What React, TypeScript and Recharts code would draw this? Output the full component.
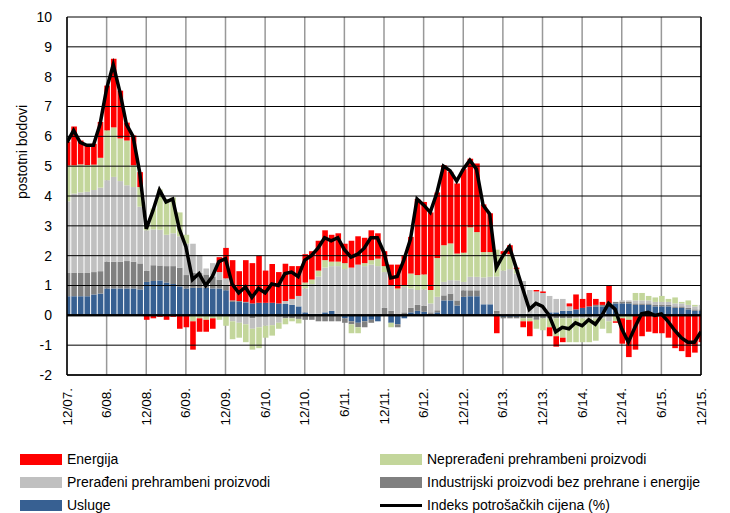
import {ComposedChart, Bar, Line, XAxis, YAxis, CartesianGrid, ReferenceLine} from 'recharts';

// x-axis labels, one every 6 months (12/07 ... 12/15)
const tickLabels = ['12/07.', '6/08.', '12/08.', '6/09.', '12/09.', '6/10.', '12/10.', '6/11.', '12/11.',
    '6/12.', '12/12.', '6/13.', '12/13.', '6/14.', '12/14.', '6/15.', '12/15.'];

// contributions in percentage points, monthly 12/07 - 12/15
const usluge = [
    0.64, 0.64, 0.64, 0.64, 0.7, 0.73, 0.9, 0.9, 0.9, 0.9, 0.9, 0.87,
    1.12, 1.15, 1.17, 1.1, 1.05, 0.97, 0.9, 0.92, 0.92, 0.92, 0.9, 0.9,
    0.84, 0.45, 0.45, 0.43, 0.4, 0.42, 0.42, 0.42, 0.4, 0.38, 0.35, 0.3,
    0.1, 0.05, 0.05, 0.1, 0.15, 0.05, -0.1, -0.2, -0.25, -0.2, -0.15, -0.2,
    0.0, -0.25, -0.3, -0.1, 0.1, 0.15, 0.12, 0.05, 0.1, 0.5, 0.5, 0.33,
    0.62, 0.64, 0.64, 0.37, 0.37, 0.05, -0.05, -0.05, -0.05, 0.05, 0.05, 0.05,
    0.05, 0.1, 0.1, 0.15, 0.15, 0.2, 0.25, 0.3, 0.3, 0.3, 0.35, 0.4,
    0.4, 0.4, 0.35, 0.35, 0.35, 0.3, 0.3, 0.3, 0.25, 0.25, 0.2, 0.15,
    0.15,
];
const industrijski = [
    0.78, 0.78, 0.78, 0.78, 0.75, 0.75, 0.9, 0.9, 0.9, 0.92, 0.9, 0.87,
    0.37, 0.53, 0.5, 0.55, 0.6, 0.63, 0.45, 0.5, 0.5, 0.45, 0.4, 0.3,
    0.15, 0.05, 0.03, 0.02, -0.1, -0.05, -0.05, -0.03, -0.05, -0.1, -0.1, -0.12,
    -0.15, -0.15, -0.2, -0.2, -0.2, -0.2, -0.15, -0.1, -0.15, -0.2, -0.1, 0.05,
    0.25, 0.15, -0.1, 0.1, 0.15, 0.2, 0.2, 0.05, 0.07, 0.17, 0.23, 0.17,
    0.22, 0.2, 0.2, 0.0, 0.0, 0.1, -0.05, -0.05, -0.05, -0.1, -0.1, -0.15,
    -0.1, -0.1, -0.1, -0.1, -0.1, -0.05, -0.05, -0.05, 0.05, 0.05, 0.05, 0.05,
    0.05, 0.05, 0.05, 0.05, 0.05, 0.05, 0.05, 0.05, 0.05, 0.05, 0.05, 0.05,
    0.05,
];
const preradeni = [
    2.4, 2.66, 2.7, 2.72, 2.75, 2.8, 2.73, 2.84, 2.7, 2.54, 2.5, 1.9,
    1.36, 1.2, 1.2, 1.05, 1.1, 1.05, 1.05, 0.98, 0.6, 0.2, 0.45, 0.25,
    0.25, -0.2, -0.25, -0.3, -0.35, -0.35, -0.3, -0.3, -0.2, 0.1, 0.2, 0.35,
    0.8, 1.0, 1.25, 1.5, 1.5, 1.6, 1.55, 1.6, 1.7, 1.65, 1.7, 1.6,
    1.2, 0.85, 0.85, 0.85, 0.65, 0.5, 0.55, 0.3, 0.45, 0.45, 0.45, 0.67,
    0.28, 0.45, 0.45, 0.9, 0.92, 1.15, 1.5, 1.55, 1.4, 1.1, 0.8, 0.75,
    0.7, 0.55, 0.45, 0.4, 0.15, -0.05, -0.05, -0.05, -0.1, -0.1, -0.2, 0.0,
    0.05, 0.05, 0.1, 0.1, 0.1, 0.1, 0.1, 0.1, 0.1, 0.1, 0.1, 0.1,
    0.15,
];
const nepreradeni = [
    1.2, 0.95, 0.94, 0.9, 0.85, 1.0, 1.67, 1.66, 1.43, 1.5, 0.73, 0.66,
    0.2, 0.7, 1.35, 1.2, 1.2, 0.8, 0.3, -0.2, -0.1, -0.15, -0.1, -0.15,
    -0.35, -0.6, -0.5, -0.6, -0.7, -0.7, -0.4, -0.35, -0.2, -0.2, -0.1, -0.15,
    0.2, 0.15, 0.2, 0.25, 0.15, 0.15, 0.2, -0.3, -0.2, 0.1, 0.15, 0.25,
    0.2, -0.15, 0.05, 0.05, 0.5, 0.5, 0.5, 0.45, 1.3, 1.23, 1.23, 0.9,
    0.98, 1.66, 1.5, 0.85, 0.83, 0.9, 0.55, 0.5, 0.15, -0.1, -0.1, -0.3,
    -0.4, -0.3, -0.6, -0.65, -0.8, -0.8, -0.8, -0.8, -0.75, -0.35, -0.4, -0.2,
    -0.1, -0.15, 0.25, 0.25, 0.15, 0.15, 0.2, 0.1, 0.2, 0.05, 0.15, 0.05,
    0.0,
];
const energija = [
    0.8, 1.3, 0.8, 0.7, 0.7, 1.2, 1.5, 2.3, 1.6, 0.6, 1.0, 0.5,
    -0.15, -0.1, -0.05, -0.15, -0.05, -0.45, -0.4, -0.95, -0.45, -0.4, -0.35, 0.5,
    1.02, 1.35, 1.0, 1.4, 1.35, 1.58, 1.08, 1.3, 1.05, 1.25, 1.1, 1.0,
    0.95, 0.95, 1.0, 1.0, 0.9, 0.95, 0.65, 0.9, 0.95, 0.85, 1.0, 0.85,
    0.5, 0.7, 0.8, 1.0, 1.23, 2.55, 2.43, 2.6, 2.2, 2.68, 2.4, 2.35,
    2.8, 2.3, 2.3, 1.6, 1.3, -0.6, 0.1, 0.3, 0.05, -0.2, -0.5, 0.05,
    0.05, -0.3, -0.35, -0.15, 0.1, 0.5, 0.3, 0.45, 0.2, 0.1, 0.6, -0.05,
    -0.85, -1.25, -1.15, -0.7, -0.55, -0.6, -0.6, -0.75, -1.1, -1.2, -1.4, -1.25,
    -0.9,
];
const indeks = [
    5.8, 6.2, 5.8, 5.7, 5.7, 6.4, 7.6, 8.4, 7.5, 6.4, 6.0, 4.8,
    2.9, 3.5, 4.2, 3.8, 3.9, 2.9, 2.3, 1.2, 1.4, 1.0, 1.3, 1.8,
    1.9, 1.05, 0.75, 0.95, 0.6, 0.9, 0.75, 1.05, 1.0, 1.4, 1.45, 1.3,
    1.85, 2.0, 2.25, 2.6, 2.5, 2.6, 2.2, 1.95, 2.05, 2.25, 2.6, 2.6,
    2.1, 1.25, 1.3, 1.85, 2.55, 3.9, 3.7, 3.45, 4.1, 5.0, 4.85, 4.5,
    4.9, 5.2, 4.9, 3.7, 3.4, 1.6, 2.0, 2.3, 1.6, 0.9, 0.2, 0.4,
    0.3, 0.0, -0.55, -0.4, -0.45, -0.25, -0.35, -0.15, -0.3, 0.0, 0.4, 0.2,
    -0.45, -0.9, -0.4, 0.05, 0.1, 0.0, 0.05, -0.2, -0.5, -0.75, -0.9, -0.9,
    -0.55,
];

const yTicks = [-2, -1, 0, 1, 2, 3, 4, 5, 6, 7, 8, 9, 10];
const Y_MIN = -2;
const Y_MAX = 10;

const data = indeks.map((v, i) => ({
    idx: i,
    usluge: usluge[i],
    industrijski: industrijski[i],
    preradeni: preradeni[i],
    nepreradeni: nepreradeni[i],
    energija: energija[i],
    indeks: v,
}));

const FONT = '"Liberation Sans", Arial, sans-serif';

// chart layout
const CHART_W = 730;
const CHART_H = 430;
const M_TOP = 17;
const M_RIGHT = 29;
const Y_AXIS_W = 67;
const X_AXIS_H = 55;
const PLOT_H = CHART_H - M_TOP - X_AXIS_H;

const XTick = ({x, y, payload}: any) => {
    const label = tickLabels[Math.round(payload.value / 6)];
    return (
        <text x={x} y={y + 5} transform={`rotate(-90, ${x}, ${y + 5})`} textAnchor="end"
              dominantBaseline="central" fontSize={13.5} fontFamily={FONT} fill="#000">
            {label}
        </text>
    );
};

const legendItems = [
    {name: 'Energija', color: '#ff0000', left: 20, top: 452},
    {name: 'Neprerađeni prehrambeni proizvodi', color: '#c3d69b', left: 380, top: 452},
    {name: 'Prerađeni prehrambeni proizvodi', color: '#c0c0c0', left: 20, top: 475},
    {name: 'Industrijski proizvodi bez prehrane i energije', color: '#808080', left: 380, top: 475},
    {name: 'Usluge', color: '#376092', left: 20, top: 498},
    {name: 'Indeks potrošačkih cijena (%)', color: '#000', left: 380, top: 498, line: true},
];

export default function App() {
    return (
        <div style={{position: 'absolute', left: 0, top: 0, width: 730, height: 513, background: '#fff', fontFamily: FONT}}>
            <div style={{position: 'absolute', left: 0, top: 0}}>
                <ComposedChart width={CHART_W} height={CHART_H} data={data} stackOffset="sign"
                               margin={{top: M_TOP, right: M_RIGHT, bottom: 0, left: 0}}>
                    <CartesianGrid horizontal={false} stroke="#999" strokeWidth={1.5}/>
                    <XAxis dataKey="idx" type="number" domain={[0, 96]} ticks={tickLabels.map((_, k) => k * 6)}
                           allowDataOverflow height={X_AXIS_H} tick={<XTick/>} tickLine={false}
                           axisLine={{stroke: '#000', strokeWidth: 1.5}}/>
                    <YAxis type="number" domain={[Y_MIN, Y_MAX]} ticks={yTicks} width={Y_AXIS_W} tickLine={false}
                           tickMargin={9} axisLine={{stroke: '#000', strokeWidth: 1.5}} interval={0}
                           tick={{fontSize: 14, fill: '#000', fontFamily: FONT}}/>
                    <Bar dataKey="usluge" stackId="a" fill="#376092" barSize={5.6} isAnimationActive={false}/>
                    <Bar dataKey="industrijski" stackId="a" fill="#808080" barSize={5.6} isAnimationActive={false}/>
                    <Bar dataKey="preradeni" stackId="a" fill="#c0c0c0" barSize={5.6} isAnimationActive={false}/>
                    <Bar dataKey="nepreradeni" stackId="a" fill="#c3d69b" barSize={5.6} isAnimationActive={false}/>
                    <Bar dataKey="energija" stackId="a" fill="#ff0000" barSize={5.6} isAnimationActive={false}/>
                    <ReferenceLine y={0} stroke="#000" strokeWidth={2}/>
                    <ReferenceLine x={96} stroke="#000" strokeWidth={1.5}/>
                    <Line dataKey="indeks" type="linear" stroke="#000" strokeWidth={3.5} dot={false}
                          isAnimationActive={false}/>
                </ComposedChart>
            </div>

            {/* black horizontal gridlines, overlaid on the chart */}
            <svg width={CHART_W} height={CHART_H}
                 style={{position: 'absolute', left: 0, top: 0, pointerEvents: 'none'}}>
                {yTicks.map((t) => {
                    const y = M_TOP + ((Y_MAX - t) / (Y_MAX - Y_MIN)) * PLOT_H;
                    return <line key={t} x1={Y_AXIS_W} x2={CHART_W - M_RIGHT} y1={y} y2={y}
                                 stroke="#000" strokeWidth={t === 0 ? 2 : 1}/>;
                })}
            </svg>

            <div style={{position: 'absolute', left: 22, top: 152, transform: 'translate(-50%, -50%) rotate(-90deg)',
                fontSize: 14, whiteSpace: 'nowrap', color: '#000'}}>
                postotni bodovi
            </div>

            {legendItems.map((item) => (
                <div key={item.name} style={{position: 'absolute', left: item.left, top: item.top, height: 14,
                    display: 'flex', alignItems: 'center', fontSize: 14, color: '#000', whiteSpace: 'nowrap'}}>
                    {item.line
                        ? <span style={{display: 'inline-block', width: 42, height: 3, background: item.color, marginRight: 5}}/>
                        : <span style={{display: 'inline-block', width: 42, height: 11, background: item.color, marginRight: 5}}/>}
                    {item.name}
                </div>
            ))}
        </div>
    );
}
